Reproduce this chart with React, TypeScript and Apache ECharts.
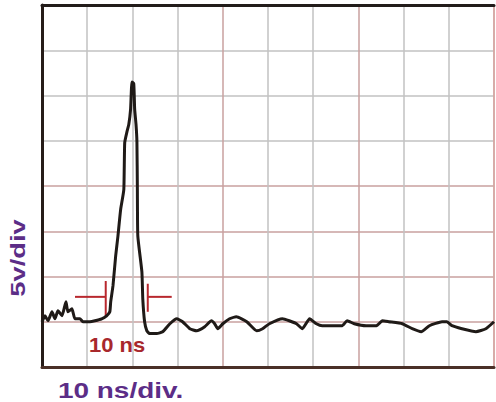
import React, { useEffect, useRef } from "react";
import * as echarts from "echarts";

// Trace: time (ns) and voltage (V)
const timeNs = [
  0, 0.66, 1.32, 2.21, 2.87, 3.53, 4.42, 5.3, 5.74, 6.62, 7.28, 8.39, 9.05, 10.6, 11.7,
  13.2, 14.3, 15.0, 15.2, 15.7, 16.3, 16.8, 17.4, 18.1, 18.3, 18.8, 19.2, 19.6, 19.9,
  20.3, 20.5, 20.8, 21.0, 21.1, 21.2, 22.1, 22.3, 22.7, 23.2, 23.8, 25.4, 26.7, 28.3,
  29.8, 31.1, 32.7, 34.2, 36.0, 37.5, 38.2, 38.9, 40.0, 41.5, 43.0, 45.3, 47.5, 48.8,
  50.3, 53.2, 54.7, 56.3, 57.6, 59.2, 60.7, 62.0, 66.4, 67.5, 69.1, 71.7, 74.0, 75.3,
  76.8, 79.7, 81.9, 83.9, 85.7, 88.5, 89.6, 90.7, 92.9, 96.0, 98.2, 100,
];
const voltage = [
  0, 0.66, 0.11, 1.1, 0.33, 1.21, 0.66, 2.2, 1.1, 1.43, 0.33, 0.33, 0, 0, 0.11,
  0.33, 0.66, 1.1, 2.2, 3.96, 7.27, 9.47, 12.4, 14.6, 19.8, 21.0, 21.8, 23.5, 26.5,
  26.3, 23.5, 21.8, 19.9, 14.6, 9.47, 5.5, 2.5, 0, -1.0, -1.3, -1.3, -1.1, -0.22,
  0.33, 0, -0.77, -1.0, -0.55, 0.11, -0.22, -0.77, -0.22, 0.33, 0.55, 0, -1.0, -0.77,
  -0.22, 0.33, 0.11, -0.22, -0.77, 0.33, -0.22, -0.44, -0.44, 0.11, -0.22, -0.44, -0.44, 0.11,
  0, -0.22, -0.77, -1.1, -0.44, 0, 0, -0.44, -0.77, -1.1, -0.77, 0,
];

// Pulse-width cursor marks (ns, V)
const cursorLeftV = [[14.1, 4.5], [14.1, 0.55]];
const cursorLeftH = [[7.3, 2.75], [14.1, 2.75]];
const cursorRightV = [[23.4, 4.2], [23.4, 1.1]];
const cursorRightH = [[23.4, 2.75], [28.7, 2.75]];

// Axes: 10 ns/div, 5 V/div
const xMin = 0, xMax = 100, xStep = 10;
const yMin = -5, yMax = 35, yStep = 5;

const GREY = "#c2c2c2";
const REDDISH = "#c9a09f";
const xGridColors = [GREY, GREY, GREY, GREY, REDDISH, GREY, GREY, REDDISH, GREY, GREY, REDDISH];
const yGridColors = [GREY, REDDISH, REDDISH, REDDISH, REDDISH, GREY, GREY, GREY, GREY];

export default function App() {
  const ref = useRef<HTMLDivElement>(null);
  useEffect(() => {
    if (!ref.current) return;
    const chart = echarts.init(ref.current, null, { renderer: "svg" });
    const trace = timeNs.map((t, i) => [t, voltage[i]]);
    const cursor = (data: number[][]) => ({
      type: "line",
      data,
      showSymbol: false,
      silent: true,
      lineStyle: { color: "#b8282e", width: 2 },
      z: 3,
    });
    const hiddenParts = {
      axisLabel: { show: false },
      axisTick: { show: false },
      splitLine: { show: false },
    };
    chart.setOption({
      animation: false,
      backgroundColor: "#ffffff",
      grid: { left: 42, right: 2, top: 5, bottom: 35, containLabel: false },
      xAxis: [
        {
          type: "value", min: xMin, max: xMax, interval: xStep,
          ...hiddenParts,
          axisLine: { show: true, onZero: false, lineStyle: { color: "#4a3027", width: 3 } },
          splitLine: { show: true, lineStyle: { color: xGridColors, width: 1.5 } },
        },
        {
          type: "value", position: "top", min: xMin, max: xMax, interval: xStep,
          ...hiddenParts,
          axisLine: { show: true, onZero: false, lineStyle: { color: "#221c1a", width: 3 } },
        },
      ],
      yAxis: [
        {
          type: "value", min: yMin, max: yMax, interval: yStep,
          ...hiddenParts,
          axisLine: { show: true, onZero: false, lineStyle: { color: "#261c18", width: 3 } },
          splitLine: { show: true, lineStyle: { color: yGridColors, width: 1.5 } },
        },
        {
          type: "value", position: "right", min: yMin, max: yMax, interval: yStep,
          ...hiddenParts,
          axisLine: { show: true, onZero: false, lineStyle: { color: "#d9a9a4", width: 1.5 } },
        },
      ],
      series: [
        {
          type: "line",
          data: trace,
          showSymbol: false,
          smooth: 0.15,
          lineStyle: { color: "#1f1a17", width: 3 },
          z: 4,
        },
        cursor(cursorLeftV),
        cursor(cursorLeftH),
        cursor(cursorRightV),
        cursor(cursorRightH),
      ],
      graphic: [
        {
          type: "text", x: 89, y: 345, scaleX: 1.1,
          style: {
            text: "10 ns", fill: "#a8282c", font: "bold 20px 'Liberation Sans', Arial, sans-serif",
            textAlign: "left", textVerticalAlign: "middle",
          },
        },
        {
          type: "text", x: 58, y: 390, scaleX: 1.27,
          style: {
            text: "10 ns/div.", fill: "#5c2d87", font: "bold 22px 'Liberation Sans', Arial, sans-serif",
            textAlign: "left", textVerticalAlign: "middle",
          },
        },
        {
          type: "text", x: 18, y: 258, rotation: Math.PI / 2, scaleX: 1.3,
          style: {
            text: "5v/div", fill: "#5c2d87", font: "bold 21px 'Liberation Sans', Arial, sans-serif",
            textAlign: "center", textVerticalAlign: "middle",
          },
        },
      ],
    });
    return () => chart.dispose();
  }, []);
  return (
    <div
      ref={ref}
      style={{ position: "fixed", left: 0, top: 0, width: 496, height: 402, background: "#fff" }}
    />
  );
}
